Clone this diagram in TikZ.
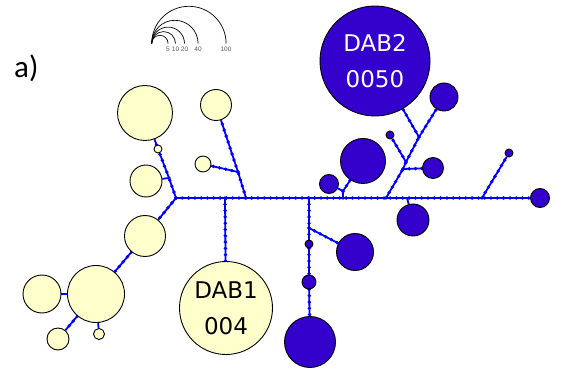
\documentclass[tikz,border=0pt]{standalone}
\usepackage{fontspec}
\setmainfont{DejaVu Sans}
\newfontfamily\carlito{Carlito}
\newfontfamily\legfont{Liberation Sans}
\usetikzlibrary{backgrounds}
\definecolor{hapyel}{HTML}{FFFFCC}
\definecolor{happur}{HTML}{3300CC}
\definecolor{linkblue}{HTML}{0000FF}
\definecolor{leggray}{HTML}{555555}
\tikzset{
 yel/.style={circle, draw=black, line width=0.9pt, fill=hapyel, inner sep=0pt, minimum size=#1},
 pur/.style={circle, draw=black, line width=0.9pt, fill=happur, inner sep=0pt, minimum size=#1},
 link/.style={draw=linkblue, line width=1.8pt, postaction={draw=linkblue, line width=3.8pt, line cap=round, dash pattern=on 0pt off 6.3pt}},
 plainlink/.style={draw=linkblue, line width=1.8pt},
 dabtext/.style={font=\fontsize{23}{36}\selectfont, align=center},
 legarc/.style={draw=black, line width=0.7pt},
 leglabel/.style={font=\legfont\fontsize{6.5}{7}\selectfont, text=leggray, inner sep=0pt},
}
\begin{document}
\begin{tikzpicture}[x=1pt, y=-1pt]
\useasboundingbox (0,0) rectangle (568,374);
% label
\node[font=\carlito\fontsize{31}{36}\selectfont, anchor=base west, inner sep=0pt] (lab) at (14,78) {a)};
% legend
\coordinate (legO) at (151.7,43.5);
\draw[legarc] (legO) arc[start angle=180, end angle=360, radius=8.2];
\draw[legarc] (legO) arc[start angle=180, end angle=360, radius=11.9];
\draw[legarc] (legO) arc[start angle=180, end angle=360, radius=16.4];
\draw[legarc] (legO) arc[start angle=180, end angle=360, radius=23.2];
\draw[legarc] (legO) arc[start angle=180, end angle=360, radius=37.2];
\node[leglabel] (l5) at (168,49.5) {5};
\node[leglabel] (l10) at (175.5,49.5) {10};
\node[leglabel] (l20) at (184.5,49.5) {20};
\node[leglabel] (l40) at (198,49.5) {40};
\node[leglabel] (l100) at (226,49.5) {100};
% yellow nodes
\node[yel=55pt] (yA) at (145,113) {};
\node[yel=8pt] (yAs) at (158,149) {};
\node[yel=32pt] (yB) at (146,181) {};
\node[yel=41pt] (yC) at (145,236) {};
\node[yel=57pt] (yD) at (96,294) {};
\node[yel=38pt] (yE) at (42,294) {};
\node[yel=22pt] (yF) at (58,339) {};
\node[yel=11pt] (yG) at (99,334) {};
\node[yel=31pt] (yH) at (216,105) {};
\node[yel=16pt] (yI) at (203,164) {};
\node[yel=93pt, dabtext, text=black] (dab1) at (226,308) {DAB1\\004};
% purple nodes
\node[pur=110pt, dabtext, text=white] (dab2) at (375,61) {DAB2\\0050};
\node[pur=28pt] (p1) at (444,97) {};
\node[pur=8pt] (p2) at (390,135) {};
\node[pur=21pt] (p3) at (433,168) {};
\node[pur=45pt] (p4) at (363,161) {};
\node[pur=19pt] (p5) at (329,184) {};
\node[pur=32pt] (p6) at (413,220) {};
\node[pur=8pt] (p7) at (509,153) {};
\node[pur=19pt] (p8) at (540,198) {};
\node[pur=37pt] (p9) at (355,252) {};
\node[pur=8pt] (p10) at (309,244) {};
\node[pur=14pt] (p11) at (309,282) {};
\node[pur=51pt] (p12) at (310,342) {};
% junctions
\coordinate (J0) at (176,198);
\coordinate (jL1) at (169,178);
\coordinate (m1) at (225,198);
\coordinate (m2) at (246,198);
\coordinate (jT) at (238,172);
\coordinate (m3) at (309,198);
\coordinate (jD) at (309,228);
\coordinate (m4) at (343,198);
\coordinate (jP) at (343,191);
\coordinate (m5) at (386,198);
\coordinate (jQ1) at (403,169);
\coordinate (jQ2) at (406,162);
\coordinate (jQ3) at (419,137);
\coordinate (m6) at (407,198);
\coordinate (m7) at (482,198);
\begin{scope}[on background layer]
\path[link] (J0) -- (p8);
\path[link] (J0) -- (jL1);
\path[link] (jL1) -- (yAs);
\path[link] (yAs) -- (yA);
\path[plainlink] (jL1) -- (yB);
\path[link] (J0) -- (yC);
\path[link] (yC) -- (yD);
\path[plainlink] (yD) -- (yE);
\path[link] (yD) -- (yF);
\path[plainlink] (yD) -- (yG);
\path[link] (m2) -- (jT);
\path[link] (jT) -- (yH);
\path[link] (jT) -- (yI);
\path[link] (m1) -- (dab1);
\path[link] (m3) -- (jD);
\path[link] (jD) -- (p10);
\path[link] (p10) -- (p11);
\path[link] (p11) -- (p12);
\path[link] (jD) -- (p9);
\path[link] (m4) -- (jP);
\path[link] (jP) -- (p4);
\path[plainlink] (jP) -- (p5);
\path[link] (m5) -- (jQ1);
\path[link] (jQ1) -- (jQ2);
\path[link] (jQ2) -- (jQ3);
\path[link] (jQ3) -- (dab2);
\path[link] (jQ3) -- (p1);
\path[link] (jQ2) -- (p2);
\path[link] (jQ1) -- (p3);
\path[plainlink] (m6) -- (p6);
\path[link] (m7) -- (p7);
\end{scope}
\end{tikzpicture}
\end{document}
